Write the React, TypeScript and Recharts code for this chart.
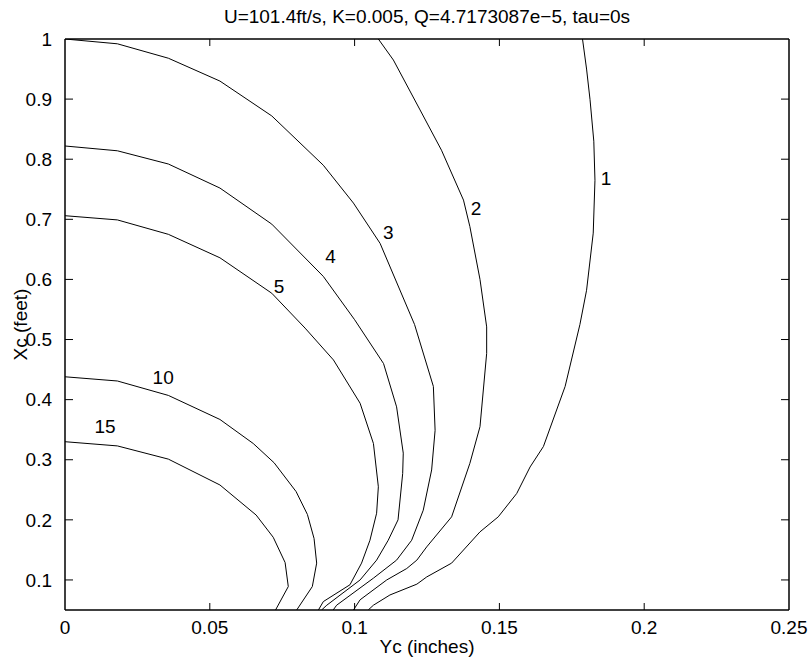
import { ComposedChart, Label, Line, ReferenceLine, Scatter, XAxis, YAxis } from 'recharts'

type Pt = { x: number; y: number }

// contour lines (Yc inches, Xc feet)
const level1: Pt[] = [
  { x: 0.1787, y: 1.0 }, { x: 0.1801, y: 0.95 }, { x: 0.1813, y: 0.899 }, { x: 0.1826, y: 0.83 },
  { x: 0.183, y: 0.765 }, { x: 0.1824, y: 0.677 }, { x: 0.1801, y: 0.582 }, { x: 0.1778, y: 0.525 },
  { x: 0.1727, y: 0.422 }, { x: 0.1652, y: 0.322 }, { x: 0.1606, y: 0.288 }, { x: 0.156, y: 0.244 },
  { x: 0.1496, y: 0.205 }, { x: 0.1433, y: 0.18 }, { x: 0.1335, y: 0.128 }, { x: 0.1249, y: 0.105 },
  { x: 0.1215, y: 0.093 }, { x: 0.1122, y: 0.075 }, { x: 0.1065, y: 0.058 }, { x: 0.1047, y: 0.05 },
]
const level2: Pt[] = [
  { x: 0.1082, y: 1.0 }, { x: 0.1134, y: 0.965 }, { x: 0.1226, y: 0.882 }, { x: 0.13, y: 0.815 },
  { x: 0.1376, y: 0.732 }, { x: 0.1398, y: 0.688 }, { x: 0.1433, y: 0.6 }, { x: 0.1456, y: 0.521 },
  { x: 0.1456, y: 0.477 }, { x: 0.1433, y: 0.355 }, { x: 0.1398, y: 0.294 }, { x: 0.1335, y: 0.205 },
  { x: 0.1249, y: 0.155 }, { x: 0.1215, y: 0.133 }, { x: 0.118, y: 0.119 }, { x: 0.1111, y: 0.1 },
  { x: 0.1019, y: 0.067 }, { x: 0.0996, y: 0.05 },
]
const level3: Pt[] = [
  { x: 0, y: 1.0 }, { x: 0.0181, y: 0.992 }, { x: 0.0357, y: 0.968 }, { x: 0.0535, y: 0.93 },
  { x: 0.0714, y: 0.872 }, { x: 0.0892, y: 0.79 }, { x: 0.0996, y: 0.727 }, { x: 0.1088, y: 0.66 },
  { x: 0.1207, y: 0.525 }, { x: 0.1272, y: 0.422 }, { x: 0.1278, y: 0.349 }, { x: 0.1266, y: 0.283 },
  { x: 0.1237, y: 0.216 }, { x: 0.1197, y: 0.166 }, { x: 0.1145, y: 0.133 }, { x: 0.1065, y: 0.103 },
  { x: 0.0938, y: 0.058 }, { x: 0.0926, y: 0.05 },
]
const level4: Pt[] = [
  { x: 0, y: 0.822 }, { x: 0.0181, y: 0.814 }, { x: 0.0357, y: 0.792 }, { x: 0.0535, y: 0.752 },
  { x: 0.0714, y: 0.692 }, { x: 0.0892, y: 0.605 }, { x: 0.1, y: 0.533 }, { x: 0.11, y: 0.46 },
  { x: 0.1145, y: 0.388 }, { x: 0.1168, y: 0.311 }, { x: 0.1166, y: 0.277 }, { x: 0.115, y: 0.2 },
  { x: 0.1116, y: 0.166 }, { x: 0.1076, y: 0.133 }, { x: 0.1019, y: 0.1 }, { x: 0.0904, y: 0.058 },
  { x: 0.0886, y: 0.05 },
]
const level5: Pt[] = [
  { x: 0, y: 0.706 }, { x: 0.0181, y: 0.699 }, { x: 0.0357, y: 0.675 }, { x: 0.0535, y: 0.636 },
  { x: 0.0714, y: 0.577 }, { x: 0.0829, y: 0.519 }, { x: 0.0927, y: 0.466 }, { x: 0.1019, y: 0.394 },
  { x: 0.1065, y: 0.327 }, { x: 0.1082, y: 0.255 }, { x: 0.1076, y: 0.211 }, { x: 0.1053, y: 0.166 },
  { x: 0.1024, y: 0.128 }, { x: 0.0984, y: 0.092 }, { x: 0.0892, y: 0.064 }, { x: 0.0875, y: 0.05 },
]
const level10: Pt[] = [
  { x: 0, y: 0.438 }, { x: 0.0181, y: 0.431 }, { x: 0.0357, y: 0.407 }, { x: 0.0535, y: 0.367 },
  { x: 0.065, y: 0.327 }, { x: 0.0722, y: 0.295 }, { x: 0.0798, y: 0.247 }, { x: 0.0837, y: 0.209 },
  { x: 0.086, y: 0.169 }, { x: 0.0869, y: 0.128 }, { x: 0.0854, y: 0.089 }, { x: 0.08, y: 0.05 },
]
const level15: Pt[] = [
  { x: 0, y: 0.33 }, { x: 0.0181, y: 0.323 }, { x: 0.0357, y: 0.301 }, { x: 0.0535, y: 0.258 },
  { x: 0.066, y: 0.208 }, { x: 0.0719, y: 0.171 }, { x: 0.076, y: 0.129 }, { x: 0.0771, y: 0.089 },
  { x: 0.0727, y: 0.05 },
]

const levels = [level1, level2, level3, level4, level5, level10, level15]

// inline contour labels
const labelText = ['1', '2', '3', '4', '5', '10', '15']
const labelX = [0.1868, 0.1419, 0.1116, 0.0917, 0.0739, 0.0339, 0.0138]
const labelY = [0.768, 0.718, 0.678, 0.638, 0.588, 0.438, 0.356]

const xTicks = [0, 0.05, 0.1, 0.15, 0.2, 0.25]
const yTicks = [0.1, 0.2, 0.3, 0.4, 0.5, 0.6, 0.7, 0.8, 0.9, 1]

const title = 'U=101.4ft/s, K=0.005, Q=4.7173087e\u22125, tau=0s'

const labelData = labelText.map((t, i) => ({ x: labelX[i], y: labelY[i], t }))

const X_DOMAIN: [number, number] = [0, 0.25]
const Y_DOMAIN: [number, number] = [0.05, 1]
const PLOT_W = 724
const PLOT_H = 571

const FONT = 19
const axisLine = { stroke: '#000', strokeWidth: 1.5 }
// matlab style: ticks point into the plot box (lengths in px, converted to data units)
const xTickLen = (7 * (Y_DOMAIN[1] - Y_DOMAIN[0])) / PLOT_H
const yTickLen = (8 * (X_DOMAIN[1] - X_DOMAIN[0])) / PLOT_W
const innerXTicks = xTicks.slice(1, -1)
const innerYTicks = yTicks.slice(0, -1)

const BOTTOM_GAP = 11
const LEFT_GAP = 13

function BottomTick(props: any) {
  const { x, y, payload } = props
  return (
    <text x={x} y={y} dy="0.71em" textAnchor="middle" fontSize={FONT} fill="#000">
      {String(payload.value)}
    </text>
  )
}

function LeftTick(props: any) {
  const { x, y, payload } = props
  return (
    <text x={x} y={y} dy="0.355em" textAnchor="end" fontSize={FONT} fill="#000">
      {String(payload.value)}
    </text>
  )
}

function ContourLabel(props: any) {
  const { cx, cy, payload } = props
  return (
    <text x={cx} y={cy} dy="0.36em" textAnchor="middle" fontSize={FONT} fill="#000">
      {payload.t}
    </text>
  )
}

export default function App() {
  return (
    <div style={{ position: 'absolute', left: 0, top: 0, fontFamily: '"Liberation Sans", Arial, sans-serif' }}>
      <ComposedChart width={809} height={661} margin={{ top: 0, right: 0, bottom: 0, left: 0 }}>
        <XAxis
          dataKey="x"
          type="number"
          domain={X_DOMAIN}
          allowDataOverflow
          ticks={xTicks}
          interval={0}
          height={51}
          tickSize={0}
          tickMargin={BOTTOM_GAP}
          axisLine={axisLine}
          tickLine={false}
          tick={<BottomTick />}
        >
          <Label value="Yc (inches)" position="insideBottom" offset={8} fill="#000" fontSize={FONT} />
        </XAxis>
        <XAxis
          xAxisId="top"
          dataKey="x"
          orientation="top"
          type="number"
          domain={X_DOMAIN}
          allowDataOverflow
          ticks={xTicks}
          interval={0}
          height={39}
          axisLine={axisLine}
          tickLine={false}
          tick={false}
        >
          <Label value={title} position="insideTop" offset={10} fill="#000" fontSize={FONT} />
        </XAxis>
        <YAxis
          dataKey="y"
          type="number"
          domain={Y_DOMAIN}
          allowDataOverflow
          ticks={yTicks}
          interval={0}
          width={65}
          tickSize={0}
          tickMargin={LEFT_GAP}
          axisLine={axisLine}
          tickLine={false}
          tick={<LeftTick />}
        >
          <Label
            value="Xc (feet)"
            angle={-90}
            position="insideLeft"
            offset={20}
            textAnchor="middle"
            fill="#000"
            fontSize={FONT}
          />
        </YAxis>
        <YAxis
          yAxisId="right"
          dataKey="y"
          orientation="right"
          type="number"
          domain={Y_DOMAIN}
          allowDataOverflow
          ticks={yTicks}
          interval={0}
          width={20}
          axisLine={axisLine}
          tickLine={false}
          tick={false}
        />
        {innerXTicks.map((t) => (
          <ReferenceLine
            key={`b${t}`}
            segment={[{ x: t, y: Y_DOMAIN[0] }, { x: t, y: Y_DOMAIN[0] + xTickLen }]}
            stroke="#000"
            strokeWidth={1}
          />
        ))}
        {innerXTicks.map((t) => (
          <ReferenceLine
            key={`t${t}`}
            segment={[{ x: t, y: Y_DOMAIN[1] }, { x: t, y: Y_DOMAIN[1] - xTickLen }]}
            stroke="#000"
            strokeWidth={1}
          />
        ))}
        {innerYTicks.map((t) => (
          <ReferenceLine
            key={`l${t}`}
            segment={[{ x: X_DOMAIN[0], y: t }, { x: X_DOMAIN[0] + yTickLen, y: t }]}
            stroke="#000"
            strokeWidth={1}
          />
        ))}
        {innerYTicks.map((t) => (
          <ReferenceLine
            key={`r${t}`}
            segment={[{ x: X_DOMAIN[1], y: t }, { x: X_DOMAIN[1] - yTickLen, y: t }]}
            stroke="#000"
            strokeWidth={1}
          />
        ))}
        {levels.map((pts, i) => (
          <Line
            key={i}
            data={pts}
            dataKey="y"
            type="linear"
            stroke="#000"
            strokeWidth={1}
            dot={false}
            activeDot={false}
            isAnimationActive={false}
          />
        ))}
        <Scatter
          data={labelData}
          dataKey="y"
          xAxisId="top"
          yAxisId="right"
          shape={ContourLabel}
          isAnimationActive={false}
        />
      </ComposedChart>
    </div>
  )
}
